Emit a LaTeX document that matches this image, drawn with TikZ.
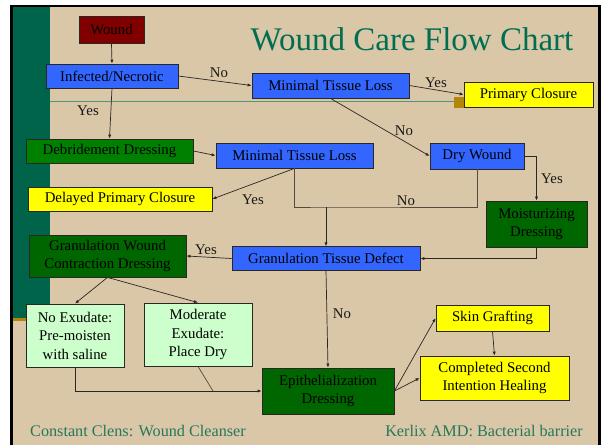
\documentclass[tikz,border=0pt]{standalone}
\usepackage{fontspec}
\setmainfont{Liberation Serif}
\usetikzlibrary{arrows.meta}
\definecolor{bgtan}{HTML}{D9C7A7}
\definecolor{tealbar}{HTML}{00644B}
\definecolor{titlecol}{HTML}{006E50}
\definecolor{footcol}{HTML}{25785B}
\definecolor{goldcol}{HTML}{B3860A}
\definecolor{rulecol}{HTML}{4E967A}
\definecolor{boxblue}{HTML}{3366FF}
\definecolor{boxgreen}{HTML}{008000}
\definecolor{boxdkgreen}{HTML}{006600}
\definecolor{boxltgreen}{HTML}{CCFFCC}
\definecolor{boxyellow}{HTML}{FFFF00}
\definecolor{boxred}{HTML}{800000}
\definecolor{linecol}{HTML}{2A2622}
\definecolor{graylinecol}{HTML}{564A3E}
\begin{document}
\begin{tikzpicture}[x=1pt,y=-1pt,
  box/.style={draw=linecol, line width=0.8pt, inner sep=0pt, align=center,
    font=\fontsize{14.8}{18.5}\selectfont, text=black},
  conn/.style={draw=linecol, line width=0.7pt, -{Latex[length=4pt,width=3.2pt]}},
  plain/.style={draw=graylinecol, line width=0.7pt},
  lab/.style={font=\fontsize{14.8}{17}\selectfont, inner sep=0pt, text=black!90}]
\useasboundingbox (0,0) rectangle (603,445);
\fill[white] (0,0) rectangle (603,445);
\fill[bgtan] (11.5,6) rectangle (599.5,445);
\fill[tealbar] (12.5,7) rectangle (50,318);
\fill[goldcol] (12.5,318) rectangle (50,321);
\draw[rulecol, line width=1.5pt] (50,101.7) -- (456,101.7);
\fill[goldcol] (454,97) rectangle (573,108);
\draw[black, line width=2.5pt] (11.5,445) -- (11.5,6) -- (599.5,6) -- (599.5,445);

% title and footers
\node[font=\fontsize{33}{36}\selectfont, text=titlecol, inner sep=0pt] (title) at (412,39) {Wound Care Flow Chart};
\node[font=\fontsize{16.2}{18}\selectfont, text=footcol, inner sep=0pt] (foot1) at (138,431) {Constant Clens: Wound Cleanser};
\node[font=\fontsize{16.2}{18}\selectfont, text=footcol, inner sep=0pt] (foot2) at (484,431) {Kerlix AMD: Bacterial barrier};

% boxes
\node[box, fill=boxred, minimum width=65pt, minimum height=27pt] (wound) at (111.5,29.5) {Wound};
\node[box, fill=boxblue, minimum width=132pt, minimum height=24pt] (inf) at (112,76) {Infected/Necrotic};
\node[box, fill=boxblue, minimum width=157pt, minimum height=25pt] (min1) at (330.5,85.5) {Minimal Tissue Loss};
\node[box, fill=boxyellow, minimum width=129pt, minimum height=25pt] (prim) at (528.5,94.5) {Primary Closure};
\node[box, fill=boxgreen, minimum width=167pt, minimum height=24pt] (debr) at (109.5,151) {Debridement Dressing};
\node[box, fill=boxblue, minimum width=157pt, minimum height=25pt] (min2) at (294.5,155.5) {Minimal Tissue Loss};
\node[box, fill=boxblue, minimum width=94pt, minimum height=26pt] (dry) at (477,156) {Dry Wound};
\node[box, fill=boxyellow, minimum width=184pt, minimum height=24pt] (delay) at (120,199) {Delayed Primary Closure};
\node[box, fill=boxdkgreen, minimum width=101pt, minimum height=46pt] (moist) at (536.5,224) {Moisturizing\\Dressing};
\node[box, fill=boxblue, minimum width=188pt, minimum height=23.5pt] (gtd) at (326,258.5) {Granulation Tissue Defect};
\node[box, fill=boxdkgreen, minimum width=157pt, minimum height=42pt] (gwcd) at (107.5,256) {Granulation Wound\\Contraction Dressing};
\node[box, fill=boxltgreen, minimum width=98pt, minimum height=63pt] (noex) at (75,335.5) {No Exudate:\\Pre-moisten\\with saline};
\node[box, fill=boxltgreen, minimum width=108pt, minimum height=63pt] (mod) at (198,334.5) {Moderate\\Exudate:\\Place Dry};
\node[box, fill=boxdkgreen, minimum width=132pt, minimum height=46pt] (epi) at (328,391) {Epithelialization\\Dressing};
\node[box, fill=boxyellow, minimum width=113pt, minimum height=26pt] (skin) at (492.5,318) {Skin Grafting};
\node[box, fill=boxyellow, minimum width=149pt, minimum height=44pt] (comp) at (494.5,378) {Completed Second\\Intention Healing};

% junction coordinates
\coordinate (j) at (326,207);
\coordinate (m) at (213,391);

% connectors
\draw[conn] (wound.south) -- (inf.north);
\draw[conn] (inf.east) -- (min1.west);
\draw[conn] (inf.south) -- (debr.north);
\draw[conn] (min1.east) -- (prim.west);
\draw[conn] (min1.south) -- (dry.west);
\draw[conn] (debr.east) -- (min2.west);
\draw[conn] (min2.south) -- (delay.east);
\draw[plain] (min2.south) |- (j) -| (dry.south);
\draw[conn] (j) -- (gtd.north);
\draw[conn] (dry.east) -| (moist.north);
\draw[conn] (moist.south) |- (gtd.east);
\draw[conn] (gtd.west) -- (gwcd.east);
\draw[conn] (gwcd.south) -- (noex.north);
\draw[conn] (gwcd.south) -- (mod.north);
\draw[conn] (noex.south) |- (epi.west);
\draw[plain] (mod.south) -- (m);
\draw[conn] (gtd.south) -- (epi.north);
\draw[conn] (epi.east) -- (skin.west);
\draw[conn] (epi.east) -- (comp.west);
\draw[conn] (skin.south) -- (comp.north);

% labels
\node[lab] (l1) at (219,73) {No};
\node[lab] (l2) at (88,111) {Yes};
\node[lab] (l3) at (436,83) {Yes};
\node[lab] (l4) at (404,131) {No};
\node[lab] (l5) at (253,200) {Yes};
\node[lab] (l6) at (406,201) {No};
\node[lab] (l7) at (552,179) {Yes};
\node[lab] (l8) at (206,250) {Yes};
\node[lab] (l9) at (342,314) {No};
\end{tikzpicture}
\end{document}
